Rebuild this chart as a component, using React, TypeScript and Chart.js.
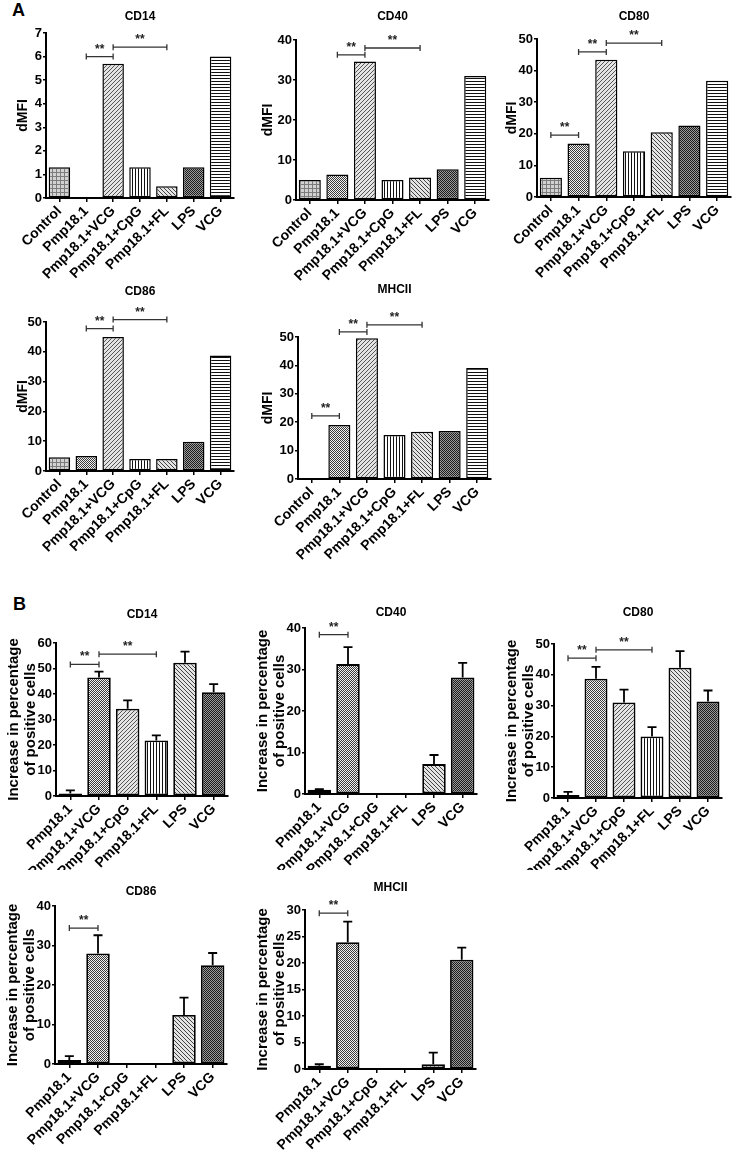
import React, { useEffect, useRef } from "react";
import { Chart, registerables } from "chart.js";

Chart.register(...registerables);

const FONT = "'Liberation Sans', Arial, Helvetica, sans-serif";
Chart.defaults.font.family = FONT;
Chart.defaults.color = "#000";

// ---------- categories ----------
const groupsA = ["Control", "Pmp18.1", "Pmp18.1+VCG", "Pmp18.1+CpG", "Pmp18.1+FL", "LPS", "VCG"];
const groupsB = ["Pmp18.1", "Pmp18.1+VCG", "Pmp18.1+CpG", "Pmp18.1+FL", "LPS", "VCG"];

// ---------- panel A values (dMFI) ----------
const aCD14 = [1.3, 0, 5.7, 1.3, 0.5, 1.3, 6.0];
const aCD40 = [5.0, 6.4, 34.6, 5.0, 5.6, 7.7, 31.0];
const aCD80 = [6.1, 16.9, 43.4, 14.5, 20.5, 22.6, 36.8];
const aCD86 = [4.6, 5.0, 45.0, 4.0, 4.0, 9.8, 38.8];
const aMHCII = [0, 19.0, 49.6, 15.5, 16.6, 16.9, 39.1];

// ---------- panel B values (% increase) and upper error ----------
const bCD14 = [1.0, 46.5, 34.2, 21.8, 52.3, 40.7];
const bCD14Err = [1.2, 2.3, 3.3, 2.0, 4.3, 3.2];
const bCD40 = [1.0, 31.3, 0, 0, 7.2, 28.1];
const bCD40Err = [0.15, 4.1, 0, 0, 2.2, 3.5];
const bCD80 = [1.0, 38.7, 31.0, 20.0, 42.3, 31.3];
const bCD80Err = [1.0, 3.9, 4.2, 3.0, 5.4, 3.6];
const bCD86 = [1.0, 28.0, 0.2, 0.2, 12.4, 25.0];
const bCD86Err = [1.0, 4.6, 0, 0, 4.4, 3.1];
const bMHCII = [0.6, 23.9, 0.2, 0.2, 0.9, 20.6];
const bMHCIIErr = [0.3, 3.9, 0, 0, 2.2, 2.3];

// ---------- significance brackets: [fromIndex, toIndex, value] ----------
const sigACD14 = [[1, 2, 6.0], [2, 4, 6.4]];
const sigACD40 = [[1, 2, 36.3], [2, 4, 38.0]];
const sigACD80 = [[0, 1, 19.6], [1, 2, 45.9], [2, 4, 48.7]];
const sigACD86 = [[1, 2, 47.8], [2, 4, 50.8]];
const sigAMHCII = [[0, 1, 22.2], [1, 2, 51.8], [2, 4, 54.3]];
const sigBCD14 = [[0, 1, 51.6], [1, 3, 55.6]];
const sigBCD40 = [[0, 1, 38.4]];
const sigBCD80 = [[0, 1, 45.4], [1, 3, 48.1]];
const sigBCD86 = [[0, 1, 34.4]];
const sigBMHCII = [[0, 1, 29.4]];

// ---------- y axis ranges [max, step] ----------
const axisACD14 = [7, 1];
const axisACD40 = [40, 10];
const axisACD80 = [50, 10];
const axisACD86 = [50, 10];
const axisAMHCII = [50, 10];
const axisBCD14 = [60, 10];
const axisBCD40 = [40, 10];
const axisBCD80 = [50, 10];
const axisBCD86 = [40, 10];
const axisBMHCII = [30, 5];

const yTitleA = "dMFI";
const yTitleB = ["Increase in percentage", "of positive cells"];

// fill patterns for each bar (by category)
const patternsA = ["plaid", "checker", "diagUp", "vert", "diagDown", "darkChecker", "horiz"];
const patternsB = ["plaid", "checker", "diagUp", "vert", "diagDown", "darkChecker"];

function makePattern(kind: string): CanvasPattern | string {
  const c = document.createElement("canvas");
  let w = 4, h = 4;
  if (kind === "vert") { w = 3; h = 3; }
  if (kind === "horiz") { w = 3; h = 3; }
  if (kind === "checker" || kind === "darkChecker") { w = 2; h = 2; }
  c.width = w; c.height = h;
  const g = c.getContext("2d")!;
  const px = (x: number, y: number, col: string) => { g.fillStyle = col; g.fillRect(x, y, 1, 1); };
  const bg = (col: string) => { g.fillStyle = col; g.fillRect(0, 0, w, h); };
  switch (kind) {
    case "plaid":
      bg("#d2d2d2");
      g.fillStyle = "#7c7c7c";
      g.fillRect(0, 0, 1, h);
      g.fillRect(0, 0, w, 1);
      break;
    case "checker":
      bg("#f2f2f2");
      px(0, 0, "#3a3a3a"); px(1, 1, "#3a3a3a");
      break;
    case "darkChecker":
      bg("#9a9a9a");
      px(0, 0, "#1c1c1c"); px(1, 1, "#1c1c1c");
      break;
    case "diagUp":
      bg("#e4e4e4");
      for (let i = 0; i < 4; i++) px(i, 3 - i, "#555");
      break;
    case "diagDown":
      bg("#e4e4e4");
      for (let i = 0; i < 4; i++) px(i, i, "#444");
      break;
    case "vert":
      bg("#ffffff");
      g.fillStyle = "#111"; g.fillRect(0, 0, 1, h);
      break;
    case "horiz":
      bg("#ffffff");
      g.fillStyle = "#111"; g.fillRect(0, 0, w, 1);
      break;
  }
  return g.createPattern(c, "repeat") || "#999";
}

type Box = { left: number; top: number; width: number; height: number };
type Plot = { left: number; right: number; top: number; bottom: number };
type Spec = {
  title: string; labels: string[]; values: number[]; errors: number[] | null; sig: number[][];
  axis: number[]; yTitle: string | string[]; patterns: string[];
  box: Box; plot: Plot; titleY: number; yTitlePad: number; yTitleSize: number; yTitleLH: number; borderW: number; barPct: number;
};

const charts: Spec[] = [
  { title: "CD14", labels: groupsA, values: aCD14, errors: null, sig: sigACD14, axis: axisACD14, yTitle: yTitleA, patterns: patternsA,
    box: { left: 0, top: 0, width: 240, height: 282 }, plot: { left: 46, right: 234, top: 33, bottom: 198 }, titleY: 17, yTitlePad: 14.6, yTitleSize: 14, yTitleLH: 1.2, borderW: 1.5, barPct: 0.8 },
  { title: "CD40", labels: groupsA, values: aCD40, errors: null, sig: sigACD40, axis: axisACD40, yTitle: yTitleA, patterns: patternsA,
    box: { left: 240, top: 0, width: 250, height: 282 }, plot: { left: 296, right: 489, top: 40, bottom: 200 }, titleY: 17, yTitlePad: 19.6, yTitleSize: 14, yTitleLH: 1.2, borderW: 1.5, barPct: 0.8 },
  { title: "CD80", labels: groupsA, values: aCD80, errors: null, sig: sigACD80, axis: axisACD80, yTitle: yTitleA, patterns: patternsA,
    box: { left: 490, top: 0, width: 244, height: 282 }, plot: { left: 537, right: 731, top: 39, bottom: 197 }, titleY: 17, yTitlePad: 13.6, yTitleSize: 14, yTitleLH: 1.2, borderW: 1.5, barPct: 0.8 },
  { title: "CD86", labels: groupsA, values: aCD86, errors: null, sig: sigACD86, axis: axisACD86, yTitle: yTitleA, patterns: patternsA,
    box: { left: 0, top: 282, width: 240, height: 300 }, plot: { left: 46, right: 234, top: 322, bottom: 471 }, titleY: 292, yTitlePad: 14.6, yTitleSize: 14, yTitleLH: 1.2, borderW: 1.5, barPct: 0.8 },
  { title: "MHCII", labels: groupsA, values: aMHCII, errors: null, sig: sigAMHCII, axis: axisAMHCII, yTitle: yTitleA, patterns: patternsA,
    box: { left: 240, top: 282, width: 256, height: 300 }, plot: { left: 298, right: 491, top: 337, bottom: 479 }, titleY: 290, yTitlePad: 19.6, yTitleSize: 14, yTitleLH: 1.2, borderW: 1.5, barPct: 0.8 },
  { title: "CD14", labels: groupsB, values: bCD14, errors: bCD14Err, sig: sigBCD14, axis: axisBCD14, yTitle: yTitleB, patterns: patternsB,
    box: { left: 0, top: 585, width: 242, height: 285 }, plot: { left: 56, right: 228, top: 643, bottom: 796 }, titleY: 615, yTitlePad: 5.75, yTitleSize: 15, yTitleLH: 1.1, borderW: 1.8, barPct: 0.82 },
  { title: "CD40", labels: groupsB, values: bCD40, errors: bCD40Err, sig: sigBCD40, axis: axisBCD40, yTitle: yTitleB, patterns: patternsB,
    box: { left: 242, top: 585, width: 243, height: 285 }, plot: { left: 305, right: 477, top: 628, bottom: 794 }, titleY: 613, yTitlePad: 12.75, yTitleSize: 15, yTitleLH: 1.1, borderW: 1.8, barPct: 0.82 },
  { title: "CD80", labels: groupsB, values: bCD80, errors: bCD80Err, sig: sigBCD80, axis: axisBCD80, yTitle: yTitleB, patterns: patternsB,
    box: { left: 485, top: 585, width: 249, height: 285 }, plot: { left: 554, right: 722, top: 644, bottom: 798 }, titleY: 613, yTitlePad: 18.75, yTitleSize: 15, yTitleLH: 1.1, borderW: 1.8, barPct: 0.82 },
  { title: "CD86", labels: groupsB, values: bCD86, errors: bCD86Err, sig: sigBCD86, axis: axisBCD86, yTitle: yTitleB, patterns: patternsB,
    box: { left: 0, top: 870, width: 242, height: 281 }, plot: { left: 55, right: 227, top: 906, bottom: 1064 }, titleY: 892, yTitlePad: 4.75, yTitleSize: 15, yTitleLH: 1.1, borderW: 1.8, barPct: 0.82 },
  { title: "MHCII", labels: groupsB, values: bMHCII, errors: bMHCIIErr, sig: sigBMHCII, axis: axisBMHCII, yTitle: yTitleB, patterns: patternsB,
    box: { left: 242, top: 870, width: 243, height: 281 }, plot: { left: 305, right: 476, top: 910, bottom: 1069 }, titleY: 888, yTitlePad: 12.75, yTitleSize: 15, yTitleLH: 1.1, borderW: 1.8, barPct: 0.82 },
];

function buildConfig(spec: Spec): any {
  const { box, plot } = spec;
  const yW = plot.left - box.left;
  const padR = box.left + box.width - plot.right;
  const xH = box.top + box.height - plot.bottom;
  const tSize = 12;
  const tLH = tSize * 1.2;
  const tTop = spec.titleY - box.top - tLH / 2;
  const tBottom = plot.top - spec.titleY - tLH / 2;

  const overlay = {
    id: "overlay",
    afterDatasetsDraw(chart: any) {
      const ctx: CanvasRenderingContext2D = chart.ctx;
      const xs = chart.scales.x;
      const ys = chart.scales.y;
      ctx.save();
      if (spec.errors) {
        ctx.strokeStyle = "#000";
        ctx.lineWidth = 1.8;
        spec.errors.forEach((e, i) => {
          if (!e) return;
          const px = xs.getPixelForValue(i);
          const y0 = ys.getPixelForValue(spec.values[i]);
          const y1 = ys.getPixelForValue(spec.values[i] + e);
          ctx.beginPath();
          ctx.moveTo(px, y0);
          ctx.lineTo(px, y1);
          ctx.moveTo(px - 4.5, y1);
          ctx.lineTo(px + 4.5, y1);
          ctx.stroke();
        });
      }
      ctx.strokeStyle = "#333";
      ctx.fillStyle = "#222";
      ctx.lineWidth = 1.3;
      ctx.font = `bold 12px ${FONT}`;
      ctx.textAlign = "center";
      ctx.textBaseline = "alphabetic";
      spec.sig.forEach(([i, j, v]) => {
        const x1 = xs.getPixelForValue(i);
        const x2 = xs.getPixelForValue(j);
        const y = ys.getPixelForValue(v);
        ctx.beginPath();
        ctx.moveTo(x1, y);
        ctx.lineTo(x2, y);
        ctx.moveTo(x1, y - 3);
        ctx.lineTo(x1, y + 3);
        ctx.moveTo(x2, y - 3);
        ctx.lineTo(x2, y + 3);
        ctx.stroke();
        ctx.fillText("**", (x1 + x2) / 2, y - 4);
      });
      ctx.restore();
    },
  };

  return {
    type: "bar",
    data: {
      labels: spec.labels,
      datasets: [
        {
          data: spec.values,
          backgroundColor: spec.patterns.map(makePattern),
          borderColor: "#000",
          borderWidth: spec.borderW,
          borderSkipped: false,
          barPercentage: spec.barPct,
          categoryPercentage: 1,
        },
      ],
    },
    options: {
      responsive: false,
      animation: false,
      events: [],
      layout: { padding: { left: 0, right: padR, top: 0, bottom: 0 } },
      plugins: {
        legend: { display: false },
        tooltip: { enabled: false },
        title: {
          display: true,
          text: spec.title,
          fullSize: false,
          color: "#000",
          font: { size: tSize, weight: "bold", family: FONT },
          padding: { top: tTop, bottom: tBottom },
        },
      },
      scales: {
        x: {
          grid: { display: true, drawOnChartArea: false, offset: false, drawTicks: true, tickLength: 4, color: "#000", lineWidth: 1.5 },
          border: { display: true, color: "#000", width: 2 },
          ticks: { autoSkip: false, maxRotation: 45, minRotation: 45, padding: 1, color: "#000", font: { size: 14, weight: "bold", family: FONT } },
          afterFit: (s: any) => { s.height = xH; },
        },
        y: {
          min: 0,
          max: spec.axis[0],
          grid: { display: true, drawOnChartArea: false, drawTicks: true, tickLength: 3, color: "#000", lineWidth: 1.5 },
          border: { display: true, color: "#000", width: 2 },
          ticks: { stepSize: spec.axis[1], padding: 1, color: "#000", font: { size: 13, weight: "bold", family: FONT } },
          title: {
            display: true,
            text: spec.yTitle,
            color: "#000",
            font: { size: spec.yTitleSize, weight: "bold", family: FONT, lineHeight: spec.yTitleLH },
            padding: { top: spec.yTitlePad, bottom: 0 },
          },
          afterFit: (s: any) => { s.width = yW; },
        },
      },
    },
    plugins: [overlay],
  };
}

function BarPanel({ spec }: { spec: Spec }) {
  const ref = useRef<HTMLCanvasElement>(null);
  useEffect(() => {
    const chart = new Chart(ref.current!, buildConfig(spec));
    return () => chart.destroy();
  }, [spec]);
  const { box } = spec;
  return (
    <canvas
      ref={ref}
      width={box.width}
      height={box.height}
      style={{ position: "absolute", left: box.left, top: box.top, width: box.width, height: box.height }}
    />
  );
}

export default function App() {
  const letter: React.CSSProperties = {
    position: "absolute",
    fontFamily: FONT,
    fontWeight: "bold",
    fontSize: 18,
    lineHeight: "18px",
    color: "#000",
  };
  return (
    <div style={{ position: "absolute", left: 0, top: 0, width: 734, height: 1151, background: "#fff", overflow: "hidden" }}>
      <div style={{ ...letter, left: 12, top: 1 }}>A</div>
      <div style={{ ...letter, left: 13, top: 595 }}>B</div>
      {charts.map((c, i) => (
        <BarPanel key={i} spec={c} />
      ))}
    </div>
  );
}
